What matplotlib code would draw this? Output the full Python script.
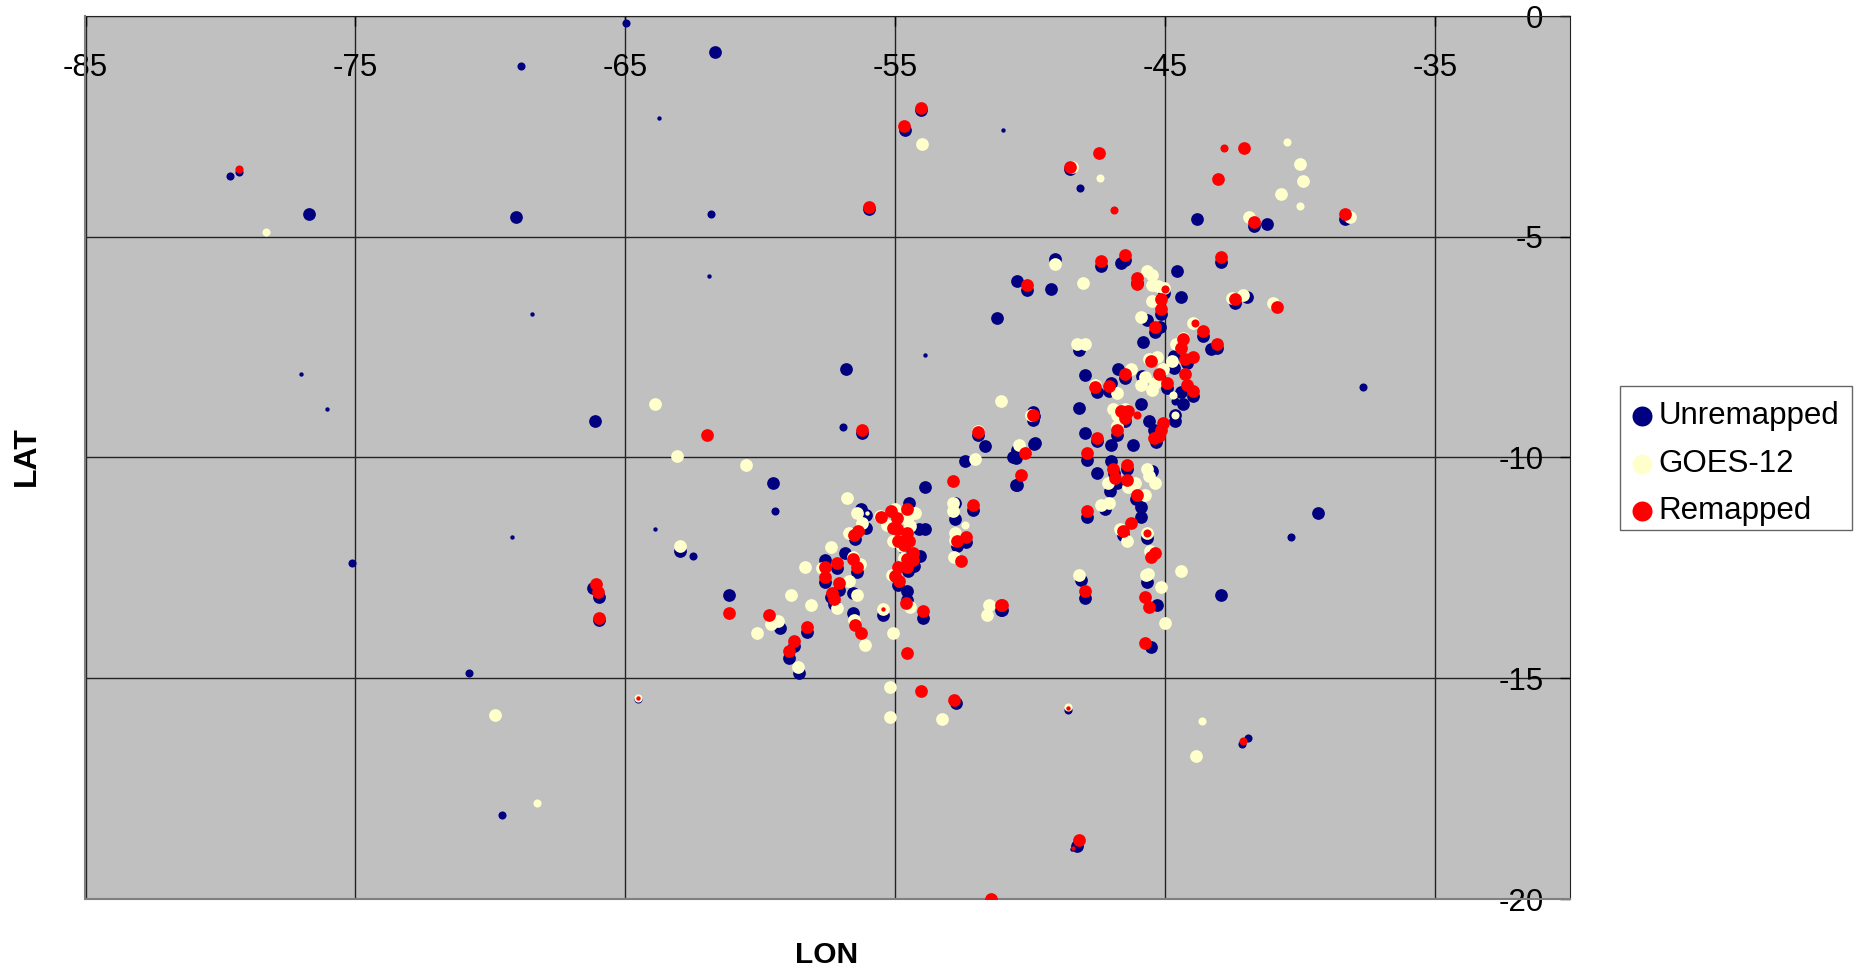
import matplotlib
matplotlib.use('Agg')
import matplotlib.pyplot as plt
from matplotlib.patches import Rectangle

plt.rcParams['font.family'] = ['Liberation Sans', 'DejaVu Sans']

xticks = [-85, -75, -65, -55, -45, -35]
yticks = [0, -5, -10, -15, -20]

# unremapped
un_lon = [-43.83, -41.69, -41.23, -38.33, -49.07, -47.38, -46.65, -46.49, -50.49, -50.12, -49.23, -44.57, -44.43,
          -51.23, -46.05, -45.06, -45.16, -45.68, -45.18, -45.38, -45.83, -42.94, -42.42, -41.97, -43.09, -43.31,
          -43.6, -48.2, -47.96, -47.53, -47.09, -47.0, -46.73, -46.49, -45.86, -44.69, -44.69, -44.2, -44.94,
          -44.42, -43.97, -44.34, -45.9, -48.2, -49.9, -49.9, -46.49, -45.6, -44.64, -44.64, -45.41, -47.96,
          -47.53, -46.79, -47.01, -46.2, -45.34, -49.83, -50.49, -50.64, -47.9, -47.01, -46.42, -46.91, -47.53,
          -45.49, -50.49, -46.79, -47.04, -46.07, -45.9, -45.9, -47.22, -47.9, -39.32, -46.57, -45.68, -48.12,
          -45.68, -47.96, -45.31, -42.94, -45.52, -51.05, -59.52, -53.89, -50.52, -56.26, -56.07, -56.07, -56.48,
          -54.48, -53.89, -54.11, -52.78, -52.78, -52.71, -52.38, -52.11, -54.07, -54.32, -54.54, -56.85, -57.59,
          -57.16, -56.42, -57.59, -56.57, -57.1, -57.38, -57.28, -54.88, -54.57, -54.57, -56.55, -53.97, -61.15,
          -59.28, -58.26, -58.76, -58.92, -58.55, -51.07, -54.69, -55.44, -61.67, -54.65, -54.04, -76.71, -69.04,
          -55.96, -48.51, -56.84, -56.23, -66.14, -62.98, -66.18, -65.96, -65.96, -52.76, -48.25, -52.41, -51.93,
          -51.67, -50.53, -49.87, -49.87]
un_lat = [-4.6, -4.75, -4.71, -4.6, -5.5, -5.66, -5.6, -5.52, -6.01, -6.2, -6.19, -5.78, -6.37,
          -6.85, -6.04, -6.27, -6.76, -6.89, -7.04, -7.16, -7.39, -5.57, -6.49, -6.37, -7.51, -7.55,
          -7.25, -7.57, -8.13, -8.52, -8.5, -8.31, -8.0, -8.2, -8.16, -7.69, -7.97, -7.85, -8.42,
          -8.52, -8.61, -8.78, -8.78, -8.87, -9.14, -8.97, -9.18, -9.18, -9.18, -9.04, -9.38, -9.45,
          -9.63, -9.48, -9.72, -9.72, -9.65, -9.68, -9.82, -9.99, -10.06, -10.08, -10.27, -10.36, -10.36,
          -10.31, -10.63, -10.57, -10.75, -10.94, -11.12, -11.35, -11.16, -11.35, -11.26, -11.76, -11.82, -12.77,
          -12.82, -13.18, -13.35, -13.12, -14.3, -13.45, -10.58, -10.67, -10.63, -11.16, -11.31, -11.59, -11.84,
          -11.03, -11.62, -11.63, -11.03, -11.4, -12.01, -11.92, -11.19, -12.22, -12.46, -12.58, -12.16, -12.33,
          -12.5, -12.59, -12.82, -13.07, -12.99, -13.16, -13.31, -12.88, -13.03, -13.23, -13.52, -13.63, -13.12,
          -13.86, -13.95, -14.28, -14.54, -14.88, -13.46, -12.05, -13.57, -0.81, -2.58, -2.12, -4.48, -4.56,
          -4.38, -3.46, -8.0, -9.45, -9.18, -12.11, -12.95, -13.15, -13.69, -15.57, -18.79, -10.09, -9.5,
          -9.74, -10.01, -9.69, -9.05]
un_small_lon = [-64.96, -68.86, -79.65, -61.84, -48.16, -56.93, -62.5, -75.13, -70.79, -64.52, -48.6, -41.93,
                -42.15, -69.56, -37.68, -40.34, -59.44, -44.64, -79.3]
un_small_lat = [-0.16, -1.13, -3.62, -4.48, -3.89, -9.31, -12.24, -12.4, -14.87, -15.46, -15.73, -16.35,
                -16.48, -18.09, -8.41, -11.81, -11.21, -8.73, -3.54]
un_tiny_lon = [-63.77, -51.0, -61.89, -68.46, -77.02, -76.05, -53.9, -63.9, -69.21, -48.46]
un_tiny_lat = [-2.31, -2.58, -5.88, -6.74, -8.11, -8.91, -7.68, -11.62, -11.81, -18.87]

# goes-12
go_lon = [-49.07, -48.05, -45.68, -45.49, -45.49, -45.25, -45.06, -45.47, -41.91, -38.15, -45.9, -42.52, -42.1,
          -41.0, -43.98, -48.27, -44.34, -44.59, -45.31, -45.59, -44.73, -46.26, -45.08, -45.74, -45.9, -45.37,
          -45.49, -46.79, -47.59, -46.95, -46.48, -46.79, -46.79, -49.97, -51.09, -50.43, -48.2, -45.62, -45.7,
          -44.43, -45.16, -45.01, -46.42, -46.67, -45.68, -45.55, -45.68, -45.59, -45.38, -46.11, -46.36, -47.1,
          -45.74, -47.07, -47.38, -56.78, -56.42, -56.23, -56.73, -57.37, -58.33, -57.71, -56.57, -56.3, -56.73,
          -56.41, -58.86, -58.11, -57.15, -60.11, -59.59, -59.36, -58.62, -56.54, -56.11, -55.44, -54.47, -55.07,
          -55.18, -52.86, -52.86, -52.78, -52.78, -52.84, -51.53, -51.6, -54.26, -55.0, -55.58, -55.31, -54.44,
          -55.09, -54.69, -55.12, -54.75, -54.57, -53.99, -48.46, -40.0, -39.91, -40.7, -63.9, -63.07, -60.53,
          -62.98, -47.98, -69.82, -55.18, -53.25, -43.86, -52.06, -51.93]
go_lat = [-5.61, -6.05, -5.77, -5.87, -6.1, -6.12, -6.15, -6.45, -4.56, -4.55, -6.82, -6.38, -6.33,
          -6.51, -6.96, -7.42, -7.29, -7.42, -7.73, -7.78, -7.82, -8.0, -7.99, -8.17, -8.36, -8.31,
          -8.46, -8.54, -8.36, -8.91, -8.91, -9.03, -9.29, -9.04, -8.72, -9.72, -12.66, -12.63, -12.67,
          -12.58, -12.94, -13.75, -11.9, -11.62, -11.71, -12.12, -10.27, -10.41, -10.57, -10.57, -10.67, -10.57,
          -10.86, -11.03, -11.08, -10.92, -11.26, -11.48, -11.71, -12.03, -12.48, -12.51, -12.25, -12.42, -12.79,
          -13.12, -13.12, -13.34, -13.42, -13.97, -13.78, -13.71, -14.75, -13.69, -14.25, -13.43, -13.38, -13.97,
          -15.87, -11.03, -11.21, -11.71, -11.86, -12.26, -13.34, -13.57, -11.26, -11.16, -11.33, -11.52, -11.55,
          -11.88, -12.27, -12.67, -12.01, -11.4, -2.9, -3.41, -3.36, -3.73, -4.03, -8.78, -9.96, -10.17,
          -12.0, -7.44, -15.84, -15.19, -15.92, -16.75, -10.04, -9.4]
go_small_lon = [-52.41, -44.71, -44.64, -78.33, -47.41, -40.48, -40.0, -48.6, -68.29, -43.64, -64.52]
go_small_lat = [-11.53, -8.59, -9.04, -4.89, -3.68, -2.85, -4.3, -15.65, -17.83, -15.97, -15.44]
go_tiny_lon = [-56.04]
go_tiny_lat = [-11.26]

# remapped
re_lon = [-41.69, -47.38, -46.49, -42.94, -46.05, -46.05, -50.12, -45.16, -45.16, -42.42, -40.86, -43.6, -43.09,
          -44.34, -44.42, -45.38, -43.97, -44.28, -45.53, -45.23, -44.27, -46.49, -44.94, -44.2, -43.97, -47.6,
          -47.09, -49.9, -46.64, -46.36, -46.49, -46.79, -45.09, -45.16, -45.41, -45.21, -47.53, -51.04, -47.96,
          -45.75, -45.6, -45.75, -45.37, -45.53, -46.57, -46.26, -47.9, -46.05, -46.42, -46.85, -46.94, -46.42,
          -47.9, -50.34, -50.2, -52.85, -52.11, -55.53, -55.15, -54.94, -54.55, -55.09, -54.94, -54.57, -54.91,
          -54.48, -54.67, -56.39, -56.54, -56.57, -56.41, -57.16, -57.59, -57.59, -57.1, -57.34, -57.28, -54.34,
          -54.57, -54.34, -54.57, -54.88, -55.0, -54.85, -52.39, -52.71, -52.57, -54.59, -53.97, -51.07, -56.48,
          -56.26, -61.15, -59.67, -58.26, -58.76, -58.92, -54.55, -54.05, -54.04, -54.69, -48.51, -47.46, -42.06,
          -43.03, -55.96, -38.33, -61.97, -56.23, -51.93, -66.1, -66.01, -65.96, -52.81, -48.2, -51.45]
re_lat = [-4.66, -5.56, -5.42, -5.46, -5.93, -6.06, -6.1, -6.42, -6.64, -6.42, -6.6, -7.14, -7.42,
          -7.31, -7.51, -7.05, -7.73, -7.78, -7.82, -8.1, -8.1, -8.1, -8.32, -8.36, -8.5, -8.41,
          -8.37, -9.04, -8.95, -8.95, -9.1, -9.37, -9.21, -9.37, -9.55, -9.52, -9.55, -13.35, -13.03,
          -13.16, -13.39, -14.2, -12.16, -12.26, -11.67, -11.49, -11.22, -10.86, -10.5, -10.46, -10.27, -10.18,
          -9.9, -10.4, -9.9, -10.53, -11.07, -11.35, -11.21, -11.37, -11.16, -11.59, -11.63, -11.71, -11.89,
          -11.88, -11.99, -11.67, -11.76, -12.29, -12.48, -12.39, -12.48, -12.7, -12.85, -13.07, -13.2, -12.16,
          -12.3, -12.33, -12.48, -12.48, -12.69, -12.8, -11.8, -11.89, -12.35, -13.29, -13.48, -13.35, -13.79,
          -13.97, -13.53, -13.57, -13.84, -14.16, -14.39, -14.43, -15.3, -2.09, -2.5, -3.41, -3.11, -2.98,
          -3.7, -4.32, -4.48, -9.5, -9.37, -9.42, -12.86, -13.05, -13.64, -15.49, -18.66, -20.0]
re_small_lon = [-45.01, -43.9, -46.05, -45.68, -79.3, -42.81, -46.89, -42.1]
re_small_lat = [-6.19, -6.96, -9.04, -11.71, -3.46, -2.98, -4.4, -16.42]
re_tiny_lon = [-55.44, -48.6, -48.42, -64.52]
re_tiny_lat = [-13.43, -15.68, -18.85, -15.44]

navy = '#000080'
cream = '#FFFFCC'
red = '#FF0000'
big, small, tiny = 84, 34, 10

fig = plt.figure(figsize=(18.56, 9.72), dpi=100)
ax = fig.add_axes([85.5 / 1856, 1 - 899 / 972, (1570 - 85.5) / 1856, (899 - 16) / 972])
ax.set_facecolor('#C0C0C0')
ax.set_xlim(-85, -30)
ax.set_ylim(-20, 0)
ax.set_xticks(xticks)
ax.set_yticks(yticks)
ax.grid(True, color='#222222', linewidth=1.0)
ax.set_axisbelow(True)

ax.scatter(un_lon, un_lat, s=big, color=navy, linewidths=0, zorder=3, label='Unremapped')
ax.scatter(un_small_lon, un_small_lat, s=small, color=navy, linewidths=0, zorder=3)
ax.scatter(un_tiny_lon, un_tiny_lat, s=tiny, color=navy, linewidths=0, zorder=3)
ax.scatter(go_lon, go_lat, s=big, color=cream, linewidths=0, zorder=4, label='GOES-12')
ax.scatter(go_small_lon, go_small_lat, s=small, color=cream, linewidths=0, zorder=4)
ax.scatter(go_tiny_lon, go_tiny_lat, s=tiny, color=cream, linewidths=0, zorder=4)
ax.scatter(re_lon, re_lat, s=big, color=red, linewidths=0, zorder=5, label='Remapped')
ax.scatter(re_small_lon, re_small_lat, s=small, color=red, linewidths=0, zorder=5)
ax.scatter(re_tiny_lon, re_tiny_lat, s=tiny, color=red, linewidths=0, zorder=5)

# axes cross at top right, labels sit inside the plot
ax.tick_params(axis='x', top=True, bottom=False, labeltop=True, labelbottom=False,
               direction='in', length=7, width=1, pad=-48, labelsize=22.5)
ax.tick_params(axis='y', right=True, left=False, labelright=True, labelleft=False,
               direction='in', length=7, width=1, pad=-19, labelsize=22.5)
ax.set_xticklabels([str(v) for v in xticks])
ax.set_yticklabels([str(v) for v in yticks])
for t in ax.get_yticklabels():
    t.set_ha('right')

ax.spines['left'].set_color('#808080')
ax.spines['bottom'].set_color('#808080')
ax.spines['left'].set_linewidth(1.5)
ax.spines['bottom'].set_linewidth(1.5)
ax.spines['top'].set_color('#222222')
ax.spines['right'].set_color('#222222')

fig.text(827 / 1856, 1 - 955 / 972, 'LON', fontsize=21.5, fontweight='bold', ha='center', va='center')
fig.text(27 / 1856, 1 - 456 / 972, 'LAT', fontsize=23, fontweight='bold', rotation=90, ha='center', va='center')

# legend box drawn apart so the rows can sit a bit low in it like the original
fig.add_artist(Rectangle((1620 / 1856, 1 - 530 / 972), 232 / 1856, 144 / 972, transform=fig.transFigure,
                         facecolor='white', edgecolor='#666666', linewidth=1))
leg = fig.legend(loc='upper left', bbox_to_anchor=(1616 / 1856, 1 - 392 / 972), fontsize=22.5, frameon=False,
                 borderpad=0.3, labelspacing=0.56, handletextpad=0.0, handlelength=1.05, borderaxespad=0,
                 scatterpoints=1, markerscale=1.57)

fig.savefig('out.png', dpi=100)
